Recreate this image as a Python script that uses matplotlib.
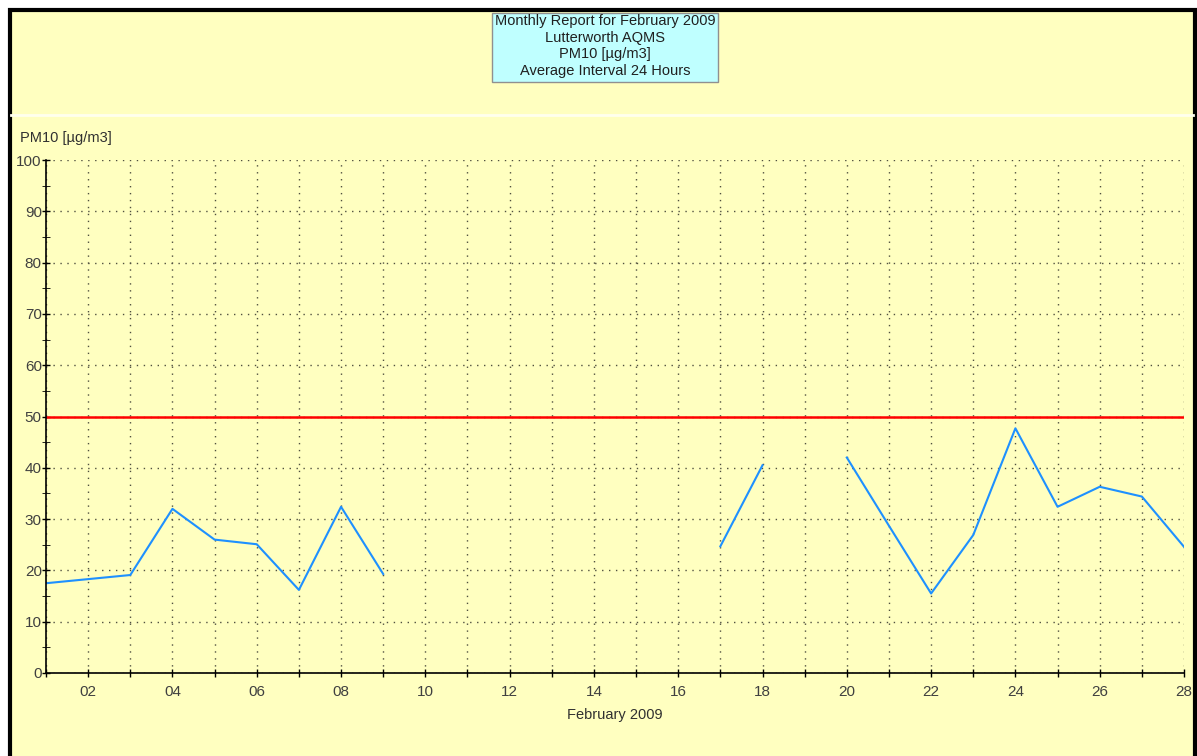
import numpy as np
import matplotlib.pyplot as plt
from matplotlib.patches import Rectangle
from matplotlib.lines import Line2D

plt.rcParams['font.family'] = ['Liberation Sans', 'DejaVu Sans']

# daily PM10 means, February 2009 (nan = no data)
days = np.arange(1, 29)
pm10 = [17.5, 18.3, 19.1, 32.0, 26.0, 25.1, 16.2, 32.4, 19.3,
        np.nan, np.nan, np.nan, np.nan, np.nan, np.nan, np.nan,
        24.7, 40.5, np.nan, 42.0, 28.7, 15.5, 26.9, 47.7, 32.4,
        36.3, 34.4, 24.6]
limit = 50
title_lines = ['Monthly Report for February 2009', 'Lutterworth AQMS',
               'PM10 [µg/m3]', 'Average Interval 24 Hours']

W, H = 1197, 756
bg = '#FFFFC0'
fig = plt.figure(figsize=(W / 100, H / 100), dpi=100, facecolor='white')

# outer frame (behind the axes)
fig.patches.append(Rectangle((9.5 / W, -0.05), (1195 - 9.5) / W, 1.05 - 9.5 / H,
                             transform=fig.transFigure, facecolor=bg,
                             edgecolor='black', linewidth=3, zorder=-5))
fig.add_artist(Line2D([11 / W, 1193 / W], [1 - 115 / H, 1 - 115 / H],
                      transform=fig.transFigure, color='#FFFFEE', lw=2,
                      zorder=-4))

# title box
fig.patches.append(Rectangle((492 / W, 1 - 82 / H), 226 / W, 69 / H,
                             transform=fig.transFigure, facecolor='#BFFFFF',
                             edgecolor='#909090', linewidth=1, zorder=2))
fig.text(605 / W, 1 - 46 / H, '\n'.join(title_lines), ha='center', va='center',
         fontsize=10.5, linespacing=1.25, color='#202020', zorder=3)

ax = fig.add_axes([46 / W, (H - 673) / H, (1184 - 46) / W, (673 - 160) / H])
ax.patch.set_alpha(0)

ax.plot(days, pm10, color='#1E90FF', lw=1.5)
ax.axhline(limit, color='red', lw=1.8)

ax.set_xlim(1, 28)
ax.set_ylim(0, 100)
ax.set_xticks(days)
ax.set_xticklabels(['%02d' % d if d % 2 == 0 else '' for d in days])
ax.set_yticks(np.arange(0, 101, 10))
ax.set_yticks(np.arange(0, 101, 5), minor=True)
ax.tick_params(axis='both', direction='inout', length=6, width=1,
               labelsize=11, labelcolor='#404040')
ax.tick_params(axis='y', which='minor', direction='inout', length=6)
ax.tick_params(axis='x', pad=6)
ax.tick_params(axis='y', pad=0)

for s in ['top', 'right']:
    ax.spines[s].set_visible(False)
ax.spines['left'].set_linewidth(1.2)
ax.spines['bottom'].set_linewidth(1.2)

ax.grid(True, which='major', linestyle=(0, (1, 4)), color='#505040', lw=1)

fig.text(20 / W, 1 - 138 / H, 'PM10 [µg/m3]', ha='left', va='center',
         fontsize=10.5, color='#303030')
ax.set_xlabel('February 2009', fontsize=10.5, color='#303030', labelpad=6)

fig.savefig('out.png', dpi=100, facecolor='white')
